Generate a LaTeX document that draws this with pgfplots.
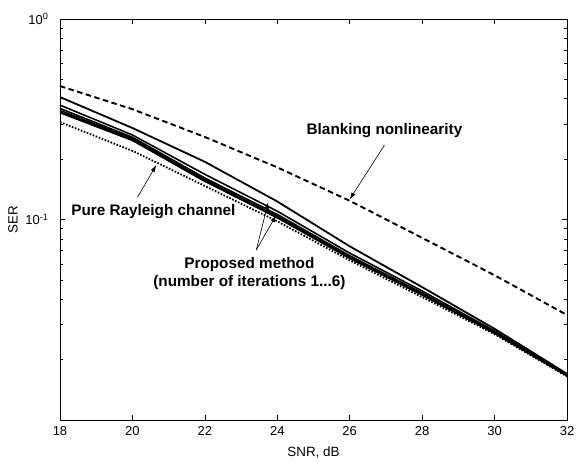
\documentclass[border=0pt]{standalone}
\usepackage{fontspec}
\setmainfont{Liberation Sans}
\usepackage{pgfplots}
\pgfplotsset{compat=1.18}
\usetikzlibrary{arrows.meta}

\begin{document}
\begin{tikzpicture}
\begin{semilogyaxis}[
  scale only axis, width=507bp, height=401bp,
  xmin=18, xmax=32, ymin=0.01, ymax=1,
  xtick={18,20,...,32},
  ytick={0.1,1}, yticklabels={10\textsuperscript{-1},10\textsuperscript{0}},
  minor ytick={0.02,0.03,0.04,0.05,0.06,0.07,0.08,0.09,0.2,0.3,0.4,0.5,0.6,0.7,0.8,0.9},
  tick align=inside, major tick length=5bp, minor tick length=3bp,
  axis line style={line width=0.8bp},
  every tick/.style={black, line width=0.6bp},
  /pgf/number format/assume math mode=true,
  tick label style={font=\fontsize{13bp}{15bp}\selectfont},
  xticklabel style={yshift=-3bp},
  yticklabel style={xshift=-8bp},
  label style={font=\fontsize{13.4bp}{15bp}\selectfont},
  xlabel={SNR, dB},
  xlabel style={at={(axis description cs:0.5,0)}, anchor=north, yshift=-27bp, inner sep=0pt},
  ylabel={SER},
  ylabel style={at={(axis description cs:-0.083,0.5)}, anchor=south, rotate=0, inner sep=0pt},
  clip=false,
]
% blanking nonlinearity
\addplot[black, line width=1.9bp, dash pattern=on 5.5bp off 3.5bp] coordinates {
  (18,0.463)(20,0.355)(22,0.258)(24,0.182)(26,0.124)(28,0.081)(30,0.0527)(32,0.0334)};
% proposed method, iterations 1..6
\addplot[black, line width=1.8bp] coordinates {
  (18,0.408)(20,0.286)(22,0.194)(24,0.123)(26,0.0735)(28,0.0460)(30,0.0285)(32,0.0170)};
\addplot[black, line width=1.6bp] coordinates {
  (18,0.372)(20,0.264)(22,0.168)(24,0.110)(26,0.0680)(28,0.0440)(30,0.0278)(32,0.0169)};
\addplot[black, line width=1.6bp] coordinates {
  (18,0.358)(20,0.257)(22,0.161)(24,0.106)(26,0.0660)(28,0.0430)(30,0.0275)(32,0.0168)};
\addplot[black, line width=1.6bp] coordinates {
  (18,0.350)(20,0.253)(22,0.158)(24,0.104)(26,0.0650)(28,0.0425)(30,0.0273)(32,0.0167)};
\addplot[black, line width=1.6bp] coordinates {
  (18,0.345)(20,0.250)(22,0.156)(24,0.103)(26,0.0645)(28,0.0422)(30,0.0272)(32,0.0167)};
\addplot[black, line width=1.6bp] coordinates {
  (18,0.341)(20,0.248)(22,0.155)(24,0.102)(26,0.0640)(28,0.0420)(30,0.0271)(32,0.0166)};
% pure Rayleigh channel
\addplot[black, line width=1.8bp, dash pattern=on 1.6bp off 1.6bp] coordinates {
  (18,0.306)(20,0.220)(22,0.147)(24,0.098)(26,0.0625)(28,0.0410)(30,0.0268)(32,0.0165)};

\coordinate (sw) at (rel axis cs:0,0);
\coordinate (ne) at (rel axis cs:1,1);

\node[font=\bfseries\fontsize{15.3bp}{18bp}\selectfont, inner sep=0pt]
  at (axis cs:26.96,0.279) {Blanking nonlinearity};
\draw[line width=0.6bp, -{Latex[length=7bp,width=4.5bp]}] (axis cs:26.96,0.235) -- (axis cs:26.0,0.126);

\node[font=\bfseries\fontsize{15.3bp}{18bp}\selectfont, inner sep=0pt]
  at (axis cs:20.58,0.109) {Pure Rayleigh channel};
\draw[line width=0.6bp, -{Latex[length=7bp,width=4.5bp]}] (axis cs:20.14,0.129) -- (axis cs:20.66,0.187);

\node[font=\bfseries\fontsize{15.3bp}{18bp}\selectfont, inner sep=0pt, align=center]
  at (axis cs:23.23,0.0535) {Proposed method\\(number of iterations 1...6)};
\draw[line width=0.6bp, -{Latex[length=7bp,width=4.5bp]}] (axis cs:23.42,0.0705) -- (axis cs:23.75,0.122);
\draw[line width=0.6bp, -{Latex[length=7bp,width=4.5bp]}] (axis cs:23.42,0.0705) -- (axis cs:23.97,0.105);
\end{semilogyaxis}
\pgfresetboundingbox
\path[use as bounding box] ([xshift=-60bp,yshift=-43bp]sw) rectangle ([xshift=9bp,yshift=19bp]ne);
\end{tikzpicture}
\end{document}
